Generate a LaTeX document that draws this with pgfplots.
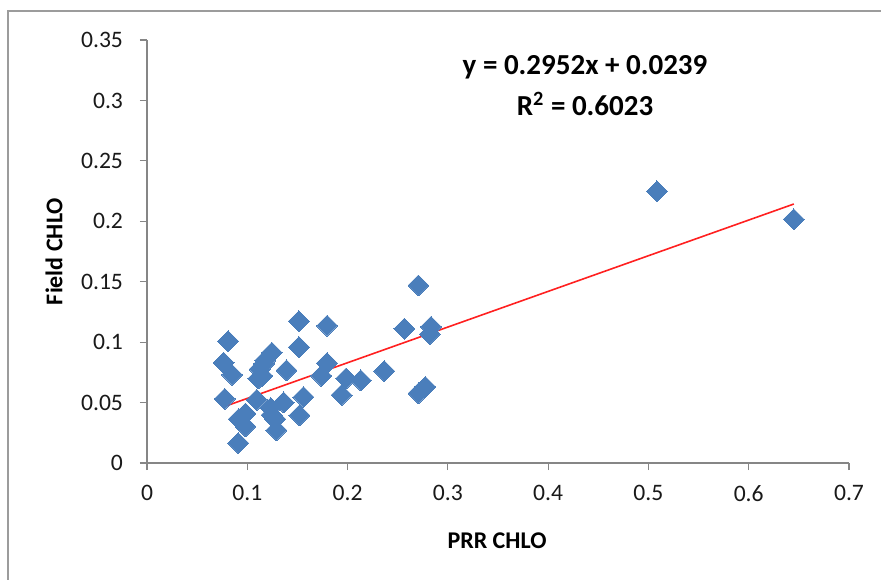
\documentclass[border=0pt]{standalone}
\usepackage{fontspec}
\setmainfont{Carlito}
\usepackage{pgfplots}
\pgfplotsset{compat=1.18}
\definecolor{ptblue}{HTML}{4A7EBB}
\definecolor{axgray}{HTML}{868686}
\definecolor{framegray}{HTML}{9C9C9C}
\definecolor{trendred}{HTML}{FF2020}

\begin{document}
\begin{tikzpicture}
\useasboundingbox (-73.5pt,-58pt) rectangle (367pt,231.5pt);
\begin{scope}
  \clip (-73.5pt,-58pt) rectangle (367pt,231.5pt);
  \draw[framegray, line width=1pt] (-69.5pt,-80pt) -- (-69.5pt,226pt) -- (400pt,226pt);
\end{scope}
\begin{axis}[
  at={(0,0)}, anchor=south west,
  width=351pt, height=211.5pt, scale only axis,
  xmin=0, xmax=0.7, ymin=0, ymax=0.35,
  axis lines*=left,
  axis line style={draw=axgray, line width=0.6pt},
  tick style={draw=axgray, line width=0.6pt},
  tick align=outside, major tick length=3.5pt,
  xtick={0,0.1,0.2,0.3,0.4,0.5,0.6,0.7},
  xticklabels={0,0.1,0.2,0.3,0.4,0.5,0.6,0.7},
  ytick={0,0.05,0.1,0.15,0.2,0.25,0.3,0.35},
  yticklabels={0,0.05,0.1,0.15,0.2,0.25,0.3,0.35},
  ticklabel style={font=\fontsize{11.8}{13}\selectfont, text=black!90},
  yticklabel style={xshift=-5pt},
  xticklabel style={yshift=-4pt},
  xlabel={PRR CHLO}, ylabel={Field CHLO},
  every axis x label/.style={at={(axis description cs:0.4986,-0.184)}, anchor=center,
    font=\fontsize{12}{14}\selectfont\bfseries},
  every axis y label/.style={at={(axis description cs:-0.1325,0.5)}, rotate=90, anchor=center,
    font=\fontsize{12}{14}\selectfont\bfseries},
  clip=false,
]
\addplot[only marks, mark=square*, mark size=3.7pt,
  mark options={rotate=45, fill=ptblue, draw=ptblue, line width=0pt}]
coordinates {
  (0.5085,0.2248) (0.6450,0.2016) (0.2707,0.1469) (0.1515,0.1173)
  (0.1795,0.1136) (0.2567,0.1111) (0.2832,0.1127) (0.2820,0.1066)
  (0.0809,0.1008) (0.1515,0.0959) (0.1245,0.0913) (0.0764,0.0830)
  (0.1795,0.0827) (0.1167,0.0821) (0.1123,0.0775) (0.0848,0.0730)
  (0.1391,0.0766) (0.1111,0.0699) (0.1738,0.0721) (0.2366,0.0760)
  (0.1985,0.0699) (0.2131,0.0684) (0.2775,0.0629) (0.2707,0.0577)
  (0.1940,0.0562) (0.0775,0.0531) (0.1560,0.0546) (0.1094,0.0522)
  (0.1363,0.0501) (0.1234,0.0455) (0.1520,0.0394) (0.0982,0.0409)
  (0.0915,0.0363) (0.1279,0.0363) (0.0982,0.0302) (0.1290,0.0271)
  (0.0909,0.0165) (0.1243,0.0397) (0.1180,0.0850) (0.1150,0.0720)
};
\addplot[trendred, line width=0.8pt] coordinates {(0.0764,0.0465) (0.6450,0.2143)};
\node[font=\fontsize{14.5}{16}\selectfont\bfseries, anchor=center]
  at (axis description cs:0.624,0.936) {y = 0.2952x + 0.0239};
\node[font=\fontsize{14.5}{16}\selectfont\bfseries, anchor=center]
  at (axis description cs:0.624,0.849) {R\textsuperscript{2} = 0.6023};
\end{axis}
\end{tikzpicture}
\end{document}
